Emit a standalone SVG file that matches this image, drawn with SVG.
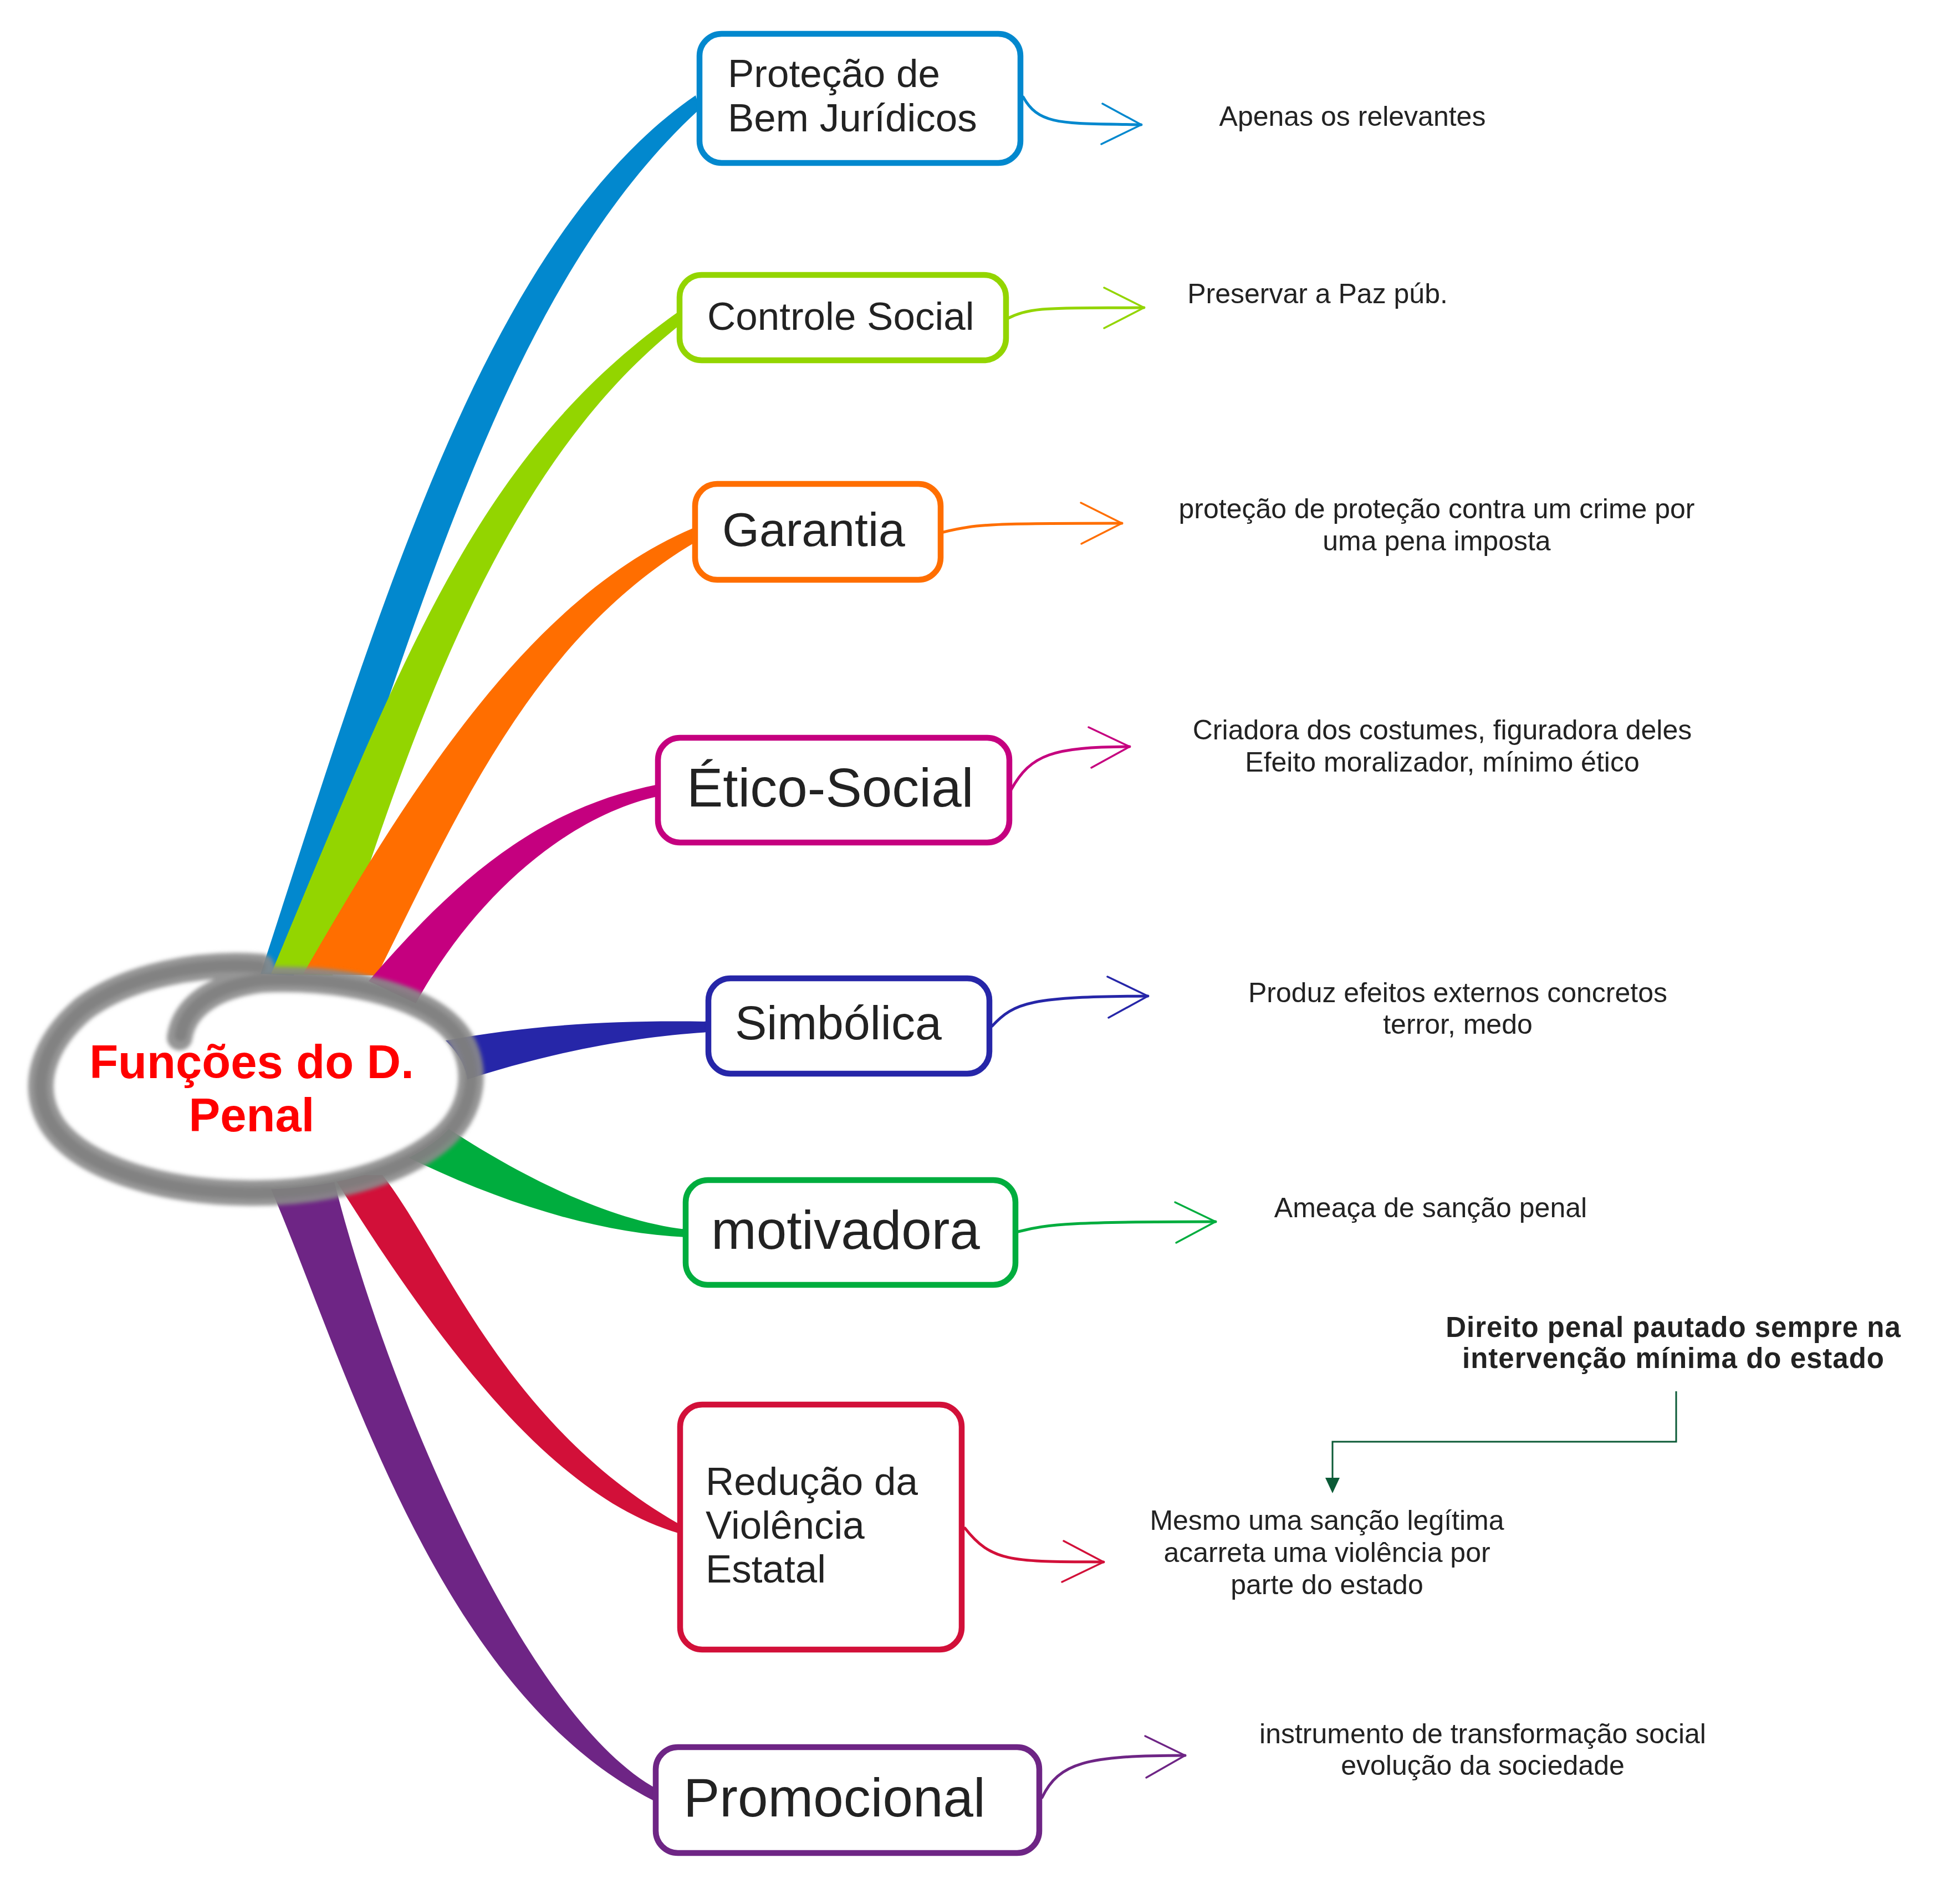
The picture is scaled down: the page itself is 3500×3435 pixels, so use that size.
<svg xmlns="http://www.w3.org/2000/svg" width="3500" height="3435" viewBox="0 0 3500 3435">
<defs>
<style>
.box{fill:#ffffff;stroke-width:10.5}
.nt{font-family:"Liberation Sans",Arial,sans-serif;fill:#222222}
.lbl{font-family:"Liberation Sans",Arial,sans-serif;font-size:50px;fill:#222222;text-anchor:middle}
.bold{font-weight:bold;font-size:51px;letter-spacing:1px}
.sub{fill:none;stroke-width:5;stroke-linecap:round}
.chev{fill:none;stroke-width:3.5;stroke-linecap:round;stroke-linejoin:round}
.title{font-family:"Liberation Sans",Arial,sans-serif;font-weight:bold;font-size:85px;fill:#ff0000;text-anchor:middle}
</style>
<filter id="soft" x="-10%" y="-20%" width="120%" height="140%"><feGaussianBlur stdDeviation="3.5"/></filter>
</defs>
<rect width="3500" height="3435" fill="#ffffff"/>

<g id="connectors">
  <path fill="#0288CE" d="M470,1757 C690,1080 880,430 1255,172 L1262,197 C910,520 760,1108 530,1760 Z"/>
  <path fill="#93D500" d="M489,1757 C730,1180 860,820 1223,563 L1232,582 C900,840 740,1330 600,1760 Z"/>
  <path fill="#FF6E00" d="M547,1757 C730,1440 950,1080 1250,953 L1258,976 C960,1150 820,1480 680,1760 Z"/>
  <path fill="#C5007F" d="M665,1770 C812,1600 960,1460 1188,1415 L1190,1436 C1030,1470 860,1610 750,1810 Z"/>
  <path fill="#2626A8" d="M800,1878 C950,1850 1100,1840 1278,1843 L1278,1862 C1150,1870 1000,1895 820,1955 Z"/>
  <path fill="#00AD3E" d="M770,2010 C900,2100 1080,2200 1237,2218 L1237,2232 C1080,2225 900,2170 720,2080 Z"/>
  <path fill="#6E2585" d="M478,2120 C620,2440 780,3050 1186,3252 L1186,3228 C950,3100 700,2520 600,2120 Z"/>
  <path fill="#D21039" d="M690,2120 C800,2260 910,2570 1226,2750 L1224,2766 C1000,2700 800,2440 600,2120 Z"/>
  <circle cx="1262" cy="185" r="9" fill="#0288CE"/>
  <circle cx="1230" cy="573" r="9" fill="#93D500"/>
  <circle cx="1256" cy="964" r="9" fill="#FF6E00"/>
  <circle cx="1190" cy="1425" r="9" fill="#C5007F"/>
  <circle cx="1280" cy="1852" r="9" fill="#2626A8"/>
  <circle cx="1237" cy="2224" r="9" fill="#00AD3E"/>
  <circle cx="1228" cy="2757" r="9" fill="#D21039"/>
  <circle cx="1186" cy="3240" r="9" fill="#6E2585"/>

  <path class="sub" stroke="#0288CE" d="M1846,175 C1875,228 1920,222 2059,225"/>
  <path class="chev" stroke="#0288CE" d="M1989,187 L2059,225 L1987,260"/>
  <path class="sub" stroke="#93D500" d="M1815,576 C1860,552 1900,556 2064,555"/>
  <path class="chev" stroke="#93D500" d="M1992,519 L2064,555 L1992,592"/>
  <path class="sub" stroke="#FF6E00" d="M1702,960 C1760,945 1800,944 2024,944"/>
  <path class="chev" stroke="#FF6E00" d="M1950,907 L2024,944 L1951,981"/>
  <path class="sub" stroke="#C5007F" d="M1824,1425 C1860,1360 1900,1348 2038,1347"/>
  <path class="chev" stroke="#C5007F" d="M1964,1312 L2038,1347 L1969,1385"/>
  <path class="sub" stroke="#2626A8" d="M1790,1851 C1830,1808 1860,1798 2071,1797"/>
  <path class="chev" stroke="#2626A8" d="M1998,1762 L2071,1797 L2000,1836"/>
  <path class="sub" stroke="#00AD3E" d="M1837,2222 C1890,2208 1940,2204 2193,2204"/>
  <path class="chev" stroke="#00AD3E" d="M2120,2169 L2193,2204 L2122,2242"/>
  <path class="sub" stroke="#D21039" d="M1741,2757 C1790,2820 1830,2817 1991,2818"/>
  <path class="chev" stroke="#D21039" d="M1919,2780 L1991,2818 L1916,2854"/>
  <path class="sub" stroke="#6E2585" d="M1880,3243 C1910,3180 1960,3167 2138,3167"/>
  <path class="chev" stroke="#6E2585" d="M2066,3132 L2138,3167 L2068,3207"/>

  <path fill="none" stroke="#0B5A36" stroke-width="3" d="M3024,2510 V2601 H2404 V2668"/>
  <polygon fill="#0B5A36" points="2391,2666 2417,2666 2404,2694"/>
</g>

<g id="center">
  <ellipse cx="462" cy="1960" rx="382" ry="186" fill="#ffffff"/>
  <g filter="url(#soft)" fill="none" stroke-linecap="round" stroke-linejoin="round">
    <path stroke="#8a8a8a" stroke-width="46" opacity="0.9" d="M324,1872 C332,1818 382,1780 470,1768 C600,1760 760,1790 820,1860 C870,1920 855,2010 790,2060 C700,2130 560,2155 440,2152 C300,2150 150,2110 95,2030 C50,1960 80,1880 150,1820 C230,1760 360,1735 472,1744"/>
    <path stroke="#7a7a7a" stroke-width="22" opacity="0.7" d="M326,1868 C334,1818 382,1780 470,1768 C600,1760 760,1790 820,1860 C870,1920 855,2010 790,2060 C700,2130 560,2155 440,2152 C300,2150 150,2110 95,2030 C50,1960 80,1880 150,1820 C230,1760 360,1735 468,1744"/>
  </g>
  <text class="title" x="454" y="1945">Funções do D.</text>
  <text class="title" x="454" y="2041">Penal</text>
</g>

<g id="node-protecao">
  <rect class="box" stroke="#0288CE" x="1262" y="61" width="579" height="233" rx="40"/>
  <text class="nt" font-size="71" x="1313" y="157">Proteção de</text>
  <text class="nt" font-size="71" x="1313" y="237">Bem Jurídicos</text>
</g>
<g id="node-controle">
  <rect class="box" stroke="#93D500" x="1226" y="496" width="589" height="154" rx="40"/>
  <text class="nt" font-size="71" x="1276" y="595">Controle Social</text>
</g>
<g id="node-garantia">
  <rect class="box" stroke="#FF6E00" x="1254" y="873" width="443" height="173" rx="40"/>
  <text class="nt" font-size="86" x="1303" y="985">Garantia</text>
</g>
<g id="node-etico">
  <rect class="box" stroke="#C5007F" x="1187" y="1331" width="634" height="189" rx="40"/>
  <text class="nt" font-size="98" x="1239" y="1455">Ético-Social</text>
</g>
<g id="node-simbolica">
  <rect class="box" stroke="#2626A8" x="1278" y="1765" width="507" height="172" rx="40"/>
  <text class="nt" font-size="86" x="1326" y="1875">Simbólica</text>
</g>
<g id="node-motivadora">
  <rect class="box" stroke="#00AD3E" x="1237" y="2129" width="595" height="189" rx="40"/>
  <text class="nt" font-size="98" x="1283" y="2253">motivadora</text>
</g>
<g id="node-reducao">
  <rect class="box" stroke="#D21039" x="1227" y="2534" width="508" height="442" rx="40"/>
  <text class="nt" font-size="71" x="1273" y="2697">Redução da</text>
  <text class="nt" font-size="71" x="1273" y="2776">Violência</text>
  <text class="nt" font-size="71" x="1273" y="2855">Estatal</text>
</g>
<g id="node-promocional">
  <rect class="box" stroke="#6E2585" x="1183" y="3152" width="692" height="191" rx="40"/>
  <text class="nt" font-size="98" x="1233" y="3277">Promocional</text>
</g>

<g id="label-protecao"><text class="lbl" x="2440" y="227">Apenas os relevantes</text></g>
<g id="label-controle"><text class="lbl" x="2377" y="547">Preservar a Paz púb.</text></g>
<g id="label-garantia">
  <text class="lbl" x="2592" y="935">proteção de proteção contra um crime por</text>
  <text class="lbl" x="2592" y="993">uma pena imposta</text>
</g>
<g id="label-etico">
  <text class="lbl" x="2602" y="1334">Criadora dos costumes, figuradora deles</text>
  <text class="lbl" x="2602" y="1392">Efeito moralizador, mínimo ético</text>
</g>
<g id="label-simbolica">
  <text class="lbl" x="2630" y="1808">Produz efeitos externos concretos</text>
  <text class="lbl" x="2630" y="1865">terror, medo</text>
</g>
<g id="label-motivadora"><text class="lbl" x="2581" y="2196">Ameaça de sanção penal</text></g>
<g id="label-intervencao">
  <text class="lbl bold" x="3019" y="2412">Direito penal pautado sempre na</text>
  <text class="lbl bold" x="3019" y="2468">intervenção mínima do estado</text>
</g>
<g id="label-reducao">
  <text class="lbl" x="2394" y="2760">Mesmo uma sanção legítima</text>
  <text class="lbl" x="2394" y="2818">acarreta uma violência por</text>
  <text class="lbl" x="2394" y="2876">parte do estado</text>
</g>
<g id="label-promocional">
  <text class="lbl" x="2675" y="3145">instrumento de transformação social</text>
  <text class="lbl" x="2675" y="3202">evolução da sociedade</text>
</g>
</svg>
